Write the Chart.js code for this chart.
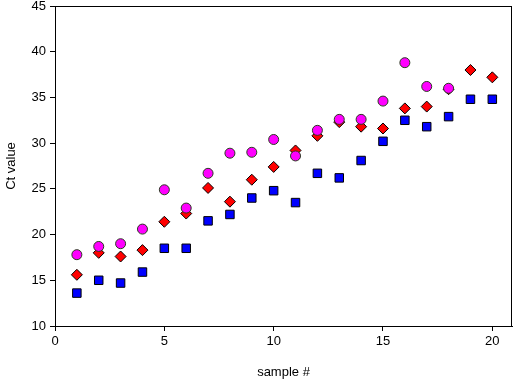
<!DOCTYPE html>
<html>
<head>
<meta charset="utf-8">
<script src="https://cdn.jsdelivr.net/npm/chart.js@4/dist/chart.umd.min.js"></script>
<style>
  html, body { margin: 0; padding: 0; background: #fff; }
  #wrap { width: 513px; height: 384px; position: relative; }
</style>
</head>
<body>
<div id="wrap"><canvas id="ctChart"></canvas></div>
<script>
// values
const samples = [1, 2, 3, 4, 5, 6, 7, 8, 9, 10, 11, 12, 13, 14, 15, 16, 17, 18, 19, 20];
const magentaCt = [17.8, 18.7, 19.0, 20.6, 24.9, 22.9, 26.7, 28.9, 29.0, 30.4, 28.6, 31.4, 32.6, 32.6, 34.6, 38.8, 36.2, 36.0, null, null];
const redCt = [15.6, 18.0, 17.6, 18.3, 21.4, 22.3, 25.1, 23.6, 26.0, 27.4, 29.2, 30.8, 32.3, 31.8, 31.6, 33.8, 34.0, 35.9, 38.0, 37.2];
const blueCt = [13.6, 15.0, 14.7, 15.9, 18.5, 18.5, 21.5, 22.2, 24.0, 24.8, 23.5, 26.7, 26.2, 28.1, 30.2, 32.5, 31.8, 32.9, 34.8, 34.8];
const xTicks = [0, 5, 10, 15, 20];
const yTicks = [10, 15, 20, 25, 30, 35, 40, 45];

const toPoints = (vals) => samples.map((s, i) => ({ x: s, y: vals[i] })).filter((p) => p.y !== null);

const frame = {
  id: "frame",
  afterDraw(chart) {
    const { ctx, chartArea } = chart;
    ctx.save();
    ctx.strokeStyle = "#000";
    ctx.lineWidth = 1;
    ctx.strokeRect(chartArea.left + 0.5, chartArea.top + 0.5, chartArea.right - chartArea.left - 1, chartArea.bottom - chartArea.top);
    ctx.restore();
  },
};

const font = { family: "'Liberation Sans', Arial, sans-serif", size: 13 };

new Chart(document.getElementById("ctChart"), {
  type: "scatter",
  data: {
    datasets: [
      {
        label: "magenta",
        data: toPoints(magentaCt),
        pointStyle: "circle",
        pointRadius: 5,
        pointHoverRadius: 5,
        backgroundColor: "#ff00ff",
        borderColor: "#2a3a20",
        borderWidth: 1,
      },
      {
        label: "red",
        data: toPoints(redCt),
        pointStyle: "rectRot",
        pointRadius: 5.5,
        pointHoverRadius: 5.5,
        backgroundColor: "#ff0000",
        borderColor: "#000",
        borderWidth: 1,
      },
      {
        label: "blue",
        data: toPoints(blueCt),
        pointStyle: "rect",
        pointRadius: 6,
        pointHoverRadius: 6,
        backgroundColor: "#0000ff",
        borderColor: "#000",
        borderWidth: 1,
      },
    ],
  },
  options: {
    responsive: true,
    maintainAspectRatio: false,
    animation: false,
    layout: { autoPadding: false, padding: { top: 6, right: 1, left: 0, bottom: 0 } },
    plugins: { legend: { display: false }, tooltip: { enabled: false } },
    scales: {
      x: {
        type: "linear",
        min: 0,
        max: 20.9,
        afterBuildTicks: (scale) => { scale.ticks = xTicks.map((v) => ({ value: v })); },
        afterFit: (scale) => { scale.height = 58; scale.paddingRight = 0; scale.paddingLeft = 0; },
        grid: { drawOnChartArea: false, color: "#000", tickLength: 5 },
        border: { color: "#000" },
        ticks: { color: "#000", font: font, padding: 3, maxRotation: 0 },
        title: { display: true, text: "sample #", color: "#000", font: font, padding: { top: 10 } },
      },
      y: {
        min: 10,
        max: 45,
        afterBuildTicks: (scale) => { scale.ticks = yTicks.map((v) => ({ value: v })); },
        afterFit: (scale) => { scale.width = 55; scale.paddingTop = 0; scale.paddingBottom = 0; },
        grid: { drawOnChartArea: false, color: "#000", tickLength: 5 },
        border: { color: "#000" },
        ticks: { color: "#000", font: font, padding: 4 },
        title: { display: true, text: "Ct value", color: "#000", font: font, padding: { bottom: 2 } },
      },
    },
  },
  plugins: [frame],
});
</script>
</body>
</html>
